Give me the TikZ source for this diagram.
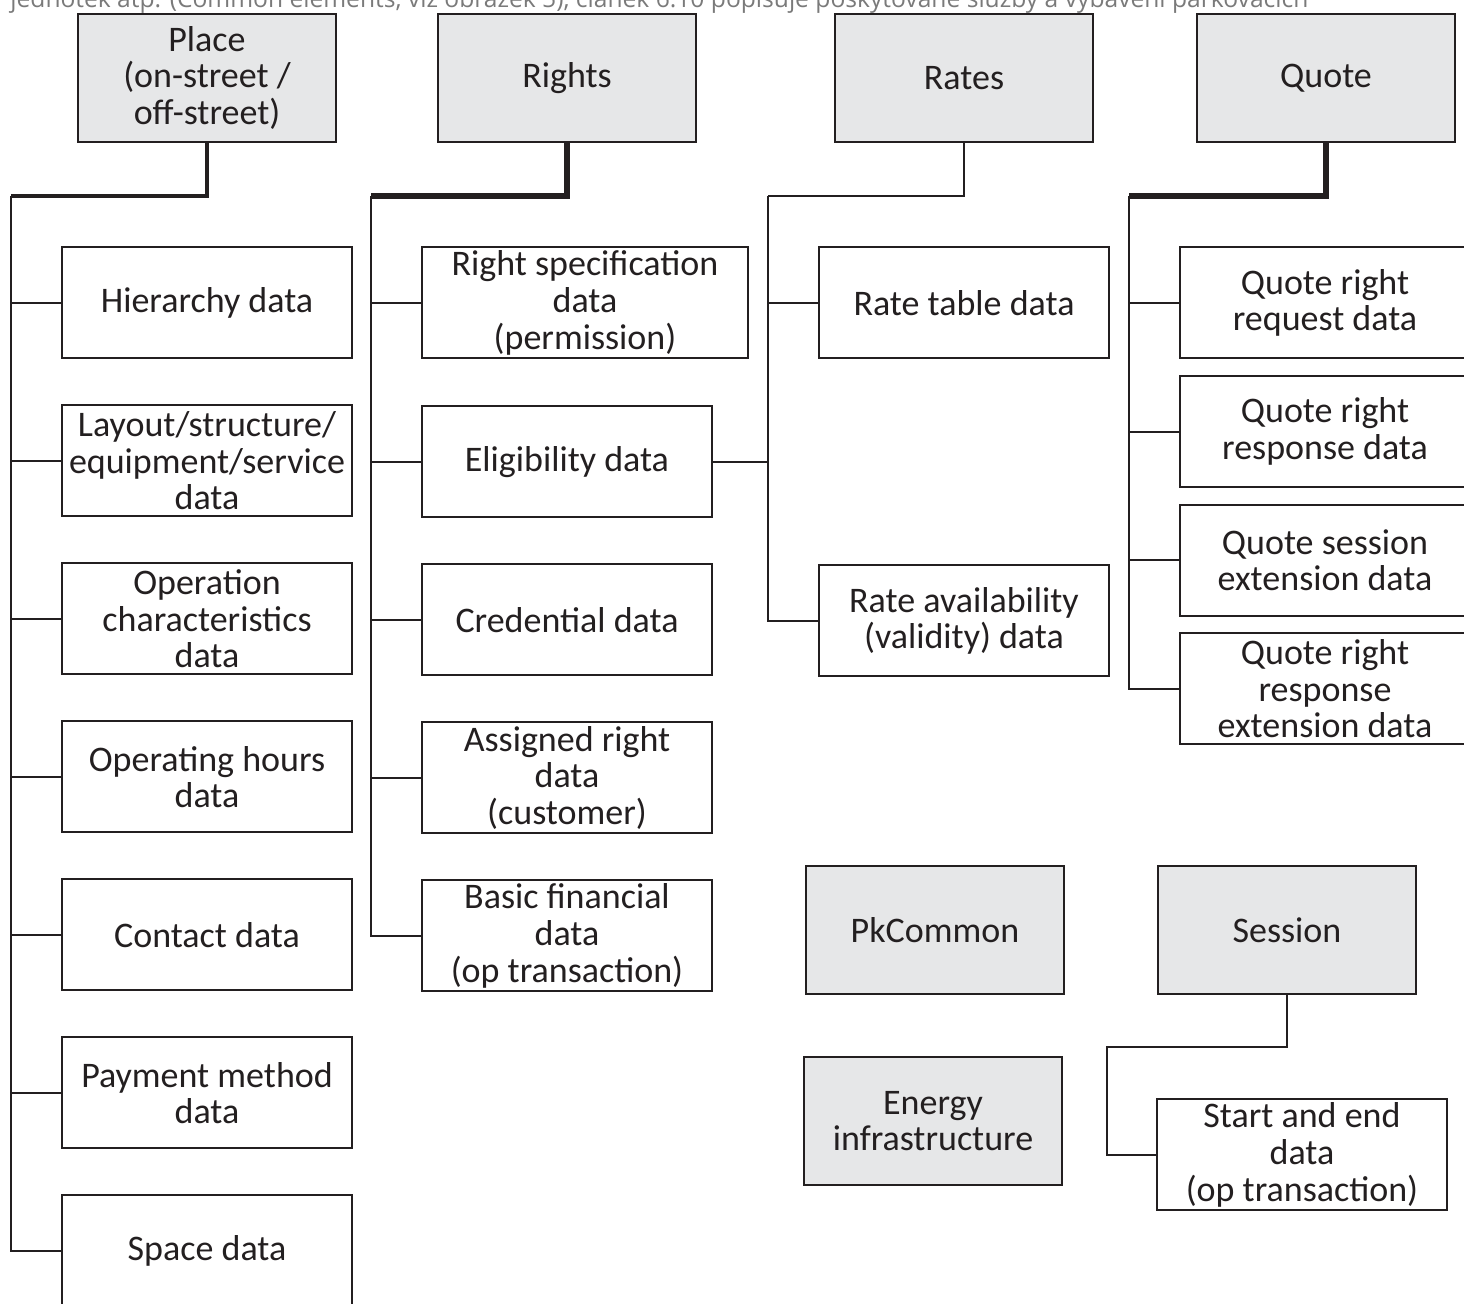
\documentclass[tikz,border=0pt]{standalone}
\usepackage{fontspec}
\setmainfont{Carlito}
\newfontfamily\notefont{Open Sans}
\usetikzlibrary{positioning}
\definecolor{headgray}{HTML}{E6E7E8}
\definecolor{ink}{HTML}{231F20}
\definecolor{notegray}{HTML}{7A7A7A}

\begin{document}
\begin{tikzpicture}[x=0.5pt,y=-0.5pt,
            font=\fontsize{18}{18.3}\selectfont,
            head/.style={draw=ink,fill=headgray,line width=1pt,minimum width=129pt,minimum height=64pt,inner sep=0pt,align=center,text=ink},
            leaf/.style={draw=ink,line width=1pt,minimum width=145pt,minimum height=55.5pt,inner sep=0pt,align=center,text=ink},
            col/.style={leaf,node distance=79pt},
            qcol/.style={leaf,node distance=64.33pt},
            wire/.style={draw=ink,line width=1pt},
            trunk/.style={wire,line width=1.3pt},
            bar/.style={wire,line width=2pt}
          ]
          \useasboundingbox (0,0) rectangle (1464,1304);
          \clip (0,0) rectangle (1464,1304);

          %cut-off caption line
          \node[anchor=base west,inner sep=0pt,text=notegray,font=\notefont\fontsize{12.3}{14}\selectfont] (note) at (10,8)
            {jednotek atp. (Common elements, viz obrázek 5), článek 6.10 popisuje poskytované služby a vybavení parkovacích};

          %headers
          \node[head] (place) at (207,78) {Place\\(on-street /\\off-street)};
          \node[head] (rights) at (567,78) {Rights};
          \node[head] (rates) at (964,78) {Rates};
          \node[head] (quote) at (1326,78) {Quote};
          \node[head] (pkcommon) at (935,930) {PkCommon};
          \node[head] (session) at (1287,930) {Session};
          \node[head] (energy) at (933,1121) {Energy\\infrastructure};

          %place
          \node[col] (hier) at (207,303) {Hierarchy data};
          \node[col,below of = hier] (layout) {Layout/structure/\\equipment/service\\data};
          \node[col,below of = layout] (oper) {Operation\\characteristics\\data};
          \node[col,below of = oper] (hours) {Operating hours\\data};
          \node[col,below of = hours] (contact) {Contact data};
          \node[col,below of = contact] (payment) {Payment method\\data};
          \node[col,below of = payment] (space) {Space data};

          %rights
          \node[leaf,minimum width=163pt] (rightspec) at (585,303) {Right specification\\data\\(permission)};
          \node[col] (elig) at (567,462) {Eligibility data};
          \node[col,below of = elig] (cred) {Credential data};
          \node[col,below of = cred] (assigned) {Assigned right\\data\\(customer)};
          \node[col,below of = assigned] (basicfin) {Basic financial\\data\\(op transaction)};

          %rates
          \node[leaf] (ratetable) at (964,303) {Rate table data};
          \node[leaf] (rateavail) at (964,621) {Rate availability\\(validity) data};

          %quote
          \node[qcol] (qreq) at (1325,303) {Quote right\\request data};
          \node[qcol,below of = qreq] (qresp) {Quote right\\response data};
          \node[qcol,below of = qresp] (qsess) {Quote session\\extension data};
          \node[qcol,below of = qsess] (qext) {Quote right\\response\\extension data};

          %session
          \node[leaf] (startend) at (1302,1155) {Start and end\\data\\(op transaction)};

          %trunks
          \coordinate (ptop) at (11,196);
          \coordinate (rtop) at (371,196);
          \coordinate (atop) at (768,196);
          \coordinate (qtop) at (1129,196);
          \coordinate (sbend) at (1107,1047);
          \draw[bar] (place.south) |- (ptop);
          \draw[bar,line width=2.6pt] (rights.south) |- (rtop);
          \draw[wire] (rates.south) |- (atop);
          \draw[bar,line width=2.6pt] (quote.south) |- (qtop);
          \draw[trunk] (ptop) |- (space.west);
          \draw[trunk] (rtop) |- (basicfin.west);
          \draw[wire] (atop) |- (rateavail.west);
          \draw[trunk] (qtop) |- (qext.west);
          \draw[wire] (session.south) |- (sbend) |- (startend.west);

          %branches
          \path[wire]
          (ptop |- hier.west) edge (hier)
          (ptop |- layout.west) edge (layout)
          (ptop |- oper.west) edge (oper)
          (ptop |- hours.west) edge (hours)
          (ptop |- contact.west) edge (contact)
          (ptop |- payment.west) edge (payment)
          (rtop |- rightspec.west) edge (rightspec)
          (rtop |- elig.west) edge (elig)
          (rtop |- cred.west) edge (cred)
          (rtop |- assigned.west) edge (assigned)
          (atop |- ratetable.west) edge (ratetable)
          (elig.east) edge (atop |- elig.east)
          (qtop |- qreq.west) edge (qreq)
          (qtop |- qresp.west) edge (qresp)
          (qtop |- qsess.west) edge (qsess)
          ;

      \end{tikzpicture}
\end{document}
